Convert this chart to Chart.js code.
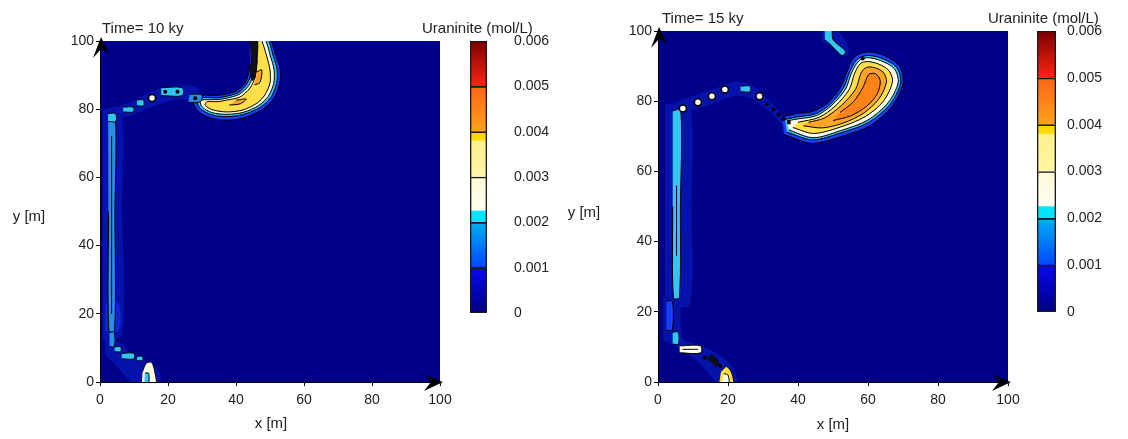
<!DOCTYPE html>
<html>
<head>
<meta charset="utf-8">
<script src="https://cdn.jsdelivr.net/npm/chart.js@4"></script>
<style>
  html, body { margin: 0; padding: 0; background: #fff; }
  #wrap { position: relative; width: 1128px; height: 439px; overflow: hidden;
          font-family: "Liberation Sans", Arial, sans-serif; color: #222; }
  canvas { position: absolute; top: 0; }
  .lbl { position: absolute; font-size: 15px; line-height: 1; white-space: nowrap; }
  .c { transform: translate(-50%, -50%); }
  .l { transform: translateY(-50%); }
</style>
</head>
<body>
<div id="wrap">
  <canvas id="left" width="470" height="439" style="left:0px"></canvas>
  <canvas id="leftBar" width="140" height="439" style="left:440px"></canvas>
  <canvas id="right" width="480" height="439" style="left:560px"></canvas>
  <canvas id="rightBar" width="118" height="439" style="left:1010px"></canvas>

  <div class="lbl l" style="left:102px;top:27px">Time= 10 ky</div>
  <div class="lbl l" style="left:422px;top:27px">Uraninite (mol/L)</div>
  <div class="lbl c" style="left:29px;top:215px">y [m]</div>
  <div class="lbl c" style="left:271px;top:422px">x [m]</div>

  <div class="lbl l" style="left:662px;top:17px">Time= 15 ky</div>
  <div class="lbl l" style="left:988px;top:17px">Uraninite (mol/L)</div>
  <div class="lbl c" style="left:584px;top:211px">y [m]</div>
  <div class="lbl c" style="left:833px;top:423px">x [m]</div>
</div>
<script>
// Ticks
const xTicks = [0, 20, 40, 60, 80, 100];
const yTicks = [0, 20, 40, 60, 80, 100];
const cbTicks = [0, 0.001, 0.002, 0.003, 0.004, 0.005, 0.006];

// Colour bar bands (value limits, colour at low end, colour at high end)
const cbStops = [0, 0.001, 0.002, 0.00225, 0.003, 0.0038, 0.004, 0.005, 0.006];
const cbLow  = ['#00007f', '#0046ff', '#00e6ff', '#fffef2', '#fff6a6', '#ffdc00', '#ffa21a', '#ff2412'];
const cbHigh = ['#0808f4', '#00b0f2', '#00e6ff', '#fffad6', '#fff08a', '#ffd400', '#ff6418', '#7a0000'];

// ---- t = 10 ky : contour regions [x, y] in metres ----
const L_glowStreak = [[0.8,80],[6.2,80],[6.5,50],[6.5,14],[0.8,12]];
const L_glowPath = [[4.5,77],[10,78.5],[16,81],[24,83],[29,81],[29,86],[24,87],[16,85.5],[10,82.5],[4.5,80.5]];
const L_glowBottom = [[1.5,13],[6,11.5],[9,8.5],[13,6.5],[17.5,3],[17.5,-1],[10.5,-1],[4.5,5],[1.5,8]];
const L_streakLow = [[1.5,15],[5.5,15],[5.5,23],[1.5,23]];
const L_streak = [[2.4,78],[4.5,78],[4.4,50],[4.3,15],[2.6,15],[2.5,50]];
const L_streakCore = [[3.4,72],[3.4,20]];
const L_topBlob = [[2.4,76.4],[4.6,76.4],[4.6,78.7],[2.4,78.7]];
const L_bar1 = [[6.8,79.2],[9.8,79.2],[9.8,80.6],[6.8,80.6]];
const L_blob1 = [[10.9,81],[12.8,81],[12.8,82.7],[10.9,82.7]];
const L_rect1 = [[18,84],[24.2,84],[24.2,86.3],[18,86.3]];
const L_blob2 = [[26,82],[29.5,82.2],[30,84.2],[26.4,84.4]];
const L_smallLow = [[2.8,10.4],[4.2,10.4],[4.2,14.6],[2.8,14.6]];
const L_blob3 = [[4.3,8.9],[6.1,8.9],[6.1,10.3],[4.3,10.3]];
const L_bar2 = [[6.4,6.8],[10,6.8],[10,8.4],[6.4,8.4]];
const L_blob4 = [[10.9,6.3],[12.5,6.3],[12.5,7.5],[10.9,7.5]];
const L_tipPale = [[12.3,-1],[16.4,-1],[16.2,2.5],[15.2,5.7],[13.6,5.5],[12.5,3]];
const L_tipCyan = [[13,-1],[14.2,-1],[14.3,2.6],[13.2,2.6]];
const L_cresHalo = [[44.5,101],[49.5,101],[51.8,95.5],[53,91.5],[52.8,87.3],[51,83],[47.5,79.8],[42.5,77.5],[37.3,76.8],[32.3,77.5],[28.8,79.5],[27.5,82.2],[29.5,84],[34.2,84],[37.8,84.6],[40.8,85.8],[42.8,88],[43.8,91],[44,95.5]];
const L_cresCyan = [[45,101],[49,101],[51,95.4],[52.1,91.5],[51.9,87.5],[50.2,83.4],[47,80.5],[42.3,78.5],[37.3,77.8],[32.7,78.4],[29.5,80.2],[28.6,82.3],[30.5,83.4],[34.3,83.3],[37.7,83.9],[40.9,85],[43.2,87.4],[44.5,90.5],[45,95]];
const L_cresPale = [[45.5,101],[48.2,101],[50.2,95.3],[51.2,91.5],[51.1,87.6],[49.5,83.8],[46.7,81.1],[42.2,79.1],[37.3,78.5],[33,79],[30.1,80.6],[29.5,82.4],[31.2,82.8],[34.4,82.8],[37.6,83.3],[41,84.4],[43.7,86.9],[45,90],[45.6,95]];
const L_cresYellow = [[46.2,101],[47.2,101],[49.1,95.3],[50,91.5],[50,87.7],[48.5,84.2],[46.2,81.8],[42.1,79.8],[37.4,79.2],[33.2,79.8],[30.9,81.2],[31.5,82.2],[34.4,82.2],[37.4,82.7],[41.2,83.6],[44.1,86.2],[45.6,89.4],[46.2,94.4]];
const L_cresBlack = [[44.2,101],[46.2,101],[46.2,94.4],[45.6,89.4],[44.6,88.5],[44.3,93]];
const L_speckA = [[45.4,87.2],[47,87.8],[47.6,91.5],[46.2,91]];
const L_speckB = [[38,81.2],[41.3,81.6],[43,83],[40,82.6]];
const L_rings = [[15.3,83.3]];
const L_dots = [[19.2,85.1],[22.8,85.1],[28,83.2]];

// ---- t = 15 ky ----
const R_glowStreak = [[2,79],[9,79],[9.5,50],[9,22],[2,22]];
const R_glowPath = [[4.5,75.5],[10,77.5],[16,79.5],[22,81.5],[27,80.5],[32,77],[36,73],[40,71.5],[40,75],[36,76],[32,80],[27,84.5],[22,85.5],[16,83.5],[10,81.5],[4.5,79.5]];
const R_glowBottom = [[1.5,12],[5,10],[10,7],[14,3],[18,-1],[22.5,-1],[21.5,4],[17,8],[12,10.5],[7,12.5],[6,24],[1.5,24]];
const R_glowTop = [[46.8,101],[50.6,101],[54.5,95],[53.6,92.6],[50.3,95.3],[46.8,97]];
const R_streakLow = [[2.4,14.8],[4.1,14.8],[4.1,23],[2.4,23]];
const R_streak = [[4.2,77.2],[6.5,77.6],[6.4,50],[6.1,24],[4.4,24],[4.2,50]];
const R_streakCore = [[5.2,36],[5.3,56]];
const R_blob1 = [[4.2,10.8],[5.8,10.8],[5.8,14.2],[4.2,14.2]];
const R_rect = [[6.2,8.3],[12.2,8.3],[12.2,10.3],[6.2,10.3]];
const R_rectCore = [[7,9.3],[11.4,9.3]];
const R_dark = [[14.2,6.4],[15.4,7.7],[17.3,5.3],[16.4,4.4]];
const R_tipYellow = [[17.4,-1],[21.4,-1],[21.1,2.4],[19.6,4.4],[18,3]];
const R_tipPale = [[18.2,-1],[20.2,-1],[20,2],[18.8,2.4]];
const R_blobCyan = [[23.6,82.7],[26.3,82.7],[26.3,84.3],[23.6,84.3]];
const R_topStreak = [[47.6,101],[49.6,101],[50,97.6],[53.6,94.2],[52.6,93],[49,96.4],[47.7,97.4]];
const R_cresHalo = [[36,70.5],[44,68],[52.5,70],[60.5,73],[66.8,78.5],[70,85],[69,90],[64,93.3],[59.5,94],[56,92.5],[54,88.5],[52.2,84],[48.5,79.5],[44,77],[39.5,76.5],[35.5,75.5]];
const R_cresCyan = [[36.8,71.2],[44.2,69],[52.3,71],[60.2,74],[66.2,79],[69.3,85.2],[68.2,89.6],[63.7,92.3],[59.6,93],[56.8,91.8],[54.8,88.4],[53,83.8],[49.3,79.2],[45,76.4],[39.6,75.5],[36.3,74.8]];
const R_cresPale = [[37.4,71.8],[44.3,69.6],[52.1,71.6],[59.9,74.6],[65.7,79.5],[68.6,85.3],[67.5,89.3],[63.5,91.6],[59.7,92.4],[57.4,91.5],[55.4,88.3],[53.6,83.5],[49.7,78.9],[45.3,75.9],[39.7,74.9],[36.8,74.4]];
const R_cresYellow = [[38.5,72.5],[44.5,70.8],[52,72.6],[59.2,75.6],[64.4,80],[67,85.5],[66,88.7],[63,90.6],[59.8,91.3],[57.8,90.7],[56.2,88],[54.6,83.3],[50.6,78.6],[46,75.4],[40,74]];
const R_cresOrange = [[41.5,73],[47,72.4],[53,73.8],[58.6,76.5],[63,80.5],[65.3,85.5],[64.3,88.3],[61.7,89.6],[59.5,89.6],[58,88],[56.5,83.5],[52.4,78.8],[47.5,75.2],[43,74]];
const R_cresDeep = [[50,74.5],[55,75.8],[59.5,78.5],[62.6,82],[63.5,85.8],[62.2,87.8],[60.2,87.6],[58.6,84],[55.8,79.8],[52,76.8]];
const R_rings = [[7.1,77.9],[11.4,79.7],[15.4,81.4],[19.1,83.3],[29,81.4]];
const R_dots = [[31.1,79.1],[33,77.6],[34.5,76.2],[35.9,74.9],[37.4,73.9],[58.5,92.2],[13.4,6.9],[17.8,4.6]];

// Colours of the contour levels
const navy = '#000088';
const level = {
  glow: '#0613aa', haze: '#0c26d6', blue: '#1a3cff', lblue: '#2a8ee8', cyan: '#34c6f2',
  pale: '#fffde6', yellow: '#ffe04a', orange: '#ffa424', deep: '#ff8418', black: '#101018'
};

const leftLayers = [
  [L_glowStreak, 'glow'], [L_glowPath, 'glow'], [L_glowBottom, 'glow'], [L_streakLow, 'haze'],
  [L_cresHalo, 'blue'], [L_cresCyan, 'cyan'], [L_cresPale, 'pale'], [L_cresYellow, 'yellow'],
  [L_cresBlack, 'black'], [L_speckA, 'orange'], [L_speckB, 'orange'],
  [L_streak, 'lblue'], [L_topBlob, 'cyan'], [L_bar1, 'cyan'], [L_blob1, 'cyan'], [L_rect1, 'cyan'],
  [L_blob2, 'lblue'], [L_smallLow, 'lblue'], [L_blob3, 'cyan'], [L_bar2, 'cyan'], [L_blob4, 'cyan'],
  [L_tipPale, 'pale'], [L_tipCyan, 'cyan']
];
const rightLayers = [
  [R_glowStreak, 'glow'], [R_glowPath, 'glow'], [R_glowBottom, 'glow'], [R_glowTop, 'glow'],
  [R_streakLow, 'blue'], [R_streak, 'cyan'], [R_blob1, 'cyan'], [R_rect, 'pale'], [R_dark, 'black'],
  [R_tipYellow, 'yellow'], [R_tipPale, 'pale'], [R_blobCyan, 'cyan'], [R_topStreak, 'cyan'],
  [R_cresHalo, 'blue'], [R_cresCyan, 'cyan'], [R_cresPale, 'pale'], [R_cresYellow, 'yellow'],
  [R_cresOrange, 'orange'], [R_cresDeep, 'deep']
];

Chart.defaults.font.family = '"Liberation Sans", Arial, sans-serif';
Chart.defaults.font.size = 14;
Chart.defaults.color = '#222';

const xy = pts => pts.map(p => ({ x: p[0], y: p[1] }));

function buildDatasets(layers, lines, rings, dots) {
  const sets = [];
  layers.forEach(([pts, kind]) => {
    const edge = kind !== 'glow' && kind !== 'haze';
    sets.push({
      data: xy(pts), showLine: true, fill: 'shape', tension: 0.3,
      backgroundColor: level[kind], borderColor: edge ? '#000' : 'rgba(0,0,0,0)',
      borderWidth: edge ? 1 : 0, pointRadius: 0
    });
  });
  lines.forEach(pts => sets.push({
    data: xy(pts), showLine: true, fill: false, borderColor: '#06062a', borderWidth: 1, pointRadius: 0
  }));
  sets.push({ data: xy(rings), showLine: false, pointRadius: 3.5,
    pointBackgroundColor: '#fffef0', pointBorderColor: '#000', pointBorderWidth: 1.5 });
  sets.push({ data: xy(dots), showLine: false, pointRadius: 2,
    pointBackgroundColor: '#000', pointBorderWidth: 0 });
  // first layer at the bottom
  sets.forEach((s, i) => { s.order = sets.length - i; });
  return sets;
}

// navy field behind the contours
const field = {
  id: 'field',
  beforeDraw(chart) {
    const a = chart.chartArea, ctx = chart.ctx;
    ctx.save();
    ctx.fillStyle = navy;
    ctx.fillRect(a.left, a.top, a.width, a.height);
    ctx.restore();
  }
};

// arrow heads at the axis ends
const arrows = {
  id: 'arrows',
  afterDraw(chart) {
    const { ctx, scales: { x, y } } = chart;
    const x0 = x.getPixelForValue(0), x1 = x.getPixelForValue(100);
    const y0 = y.getPixelForValue(0), y1 = y.getPixelForValue(100);
    ctx.save();
    ctx.fillStyle = '#000';
    ctx.beginPath();
    ctx.moveTo(x0 + 1, y1 - 4);
    ctx.lineTo(x0 + 9, y1 + 12);
    ctx.lineTo(x0 + 1, y1 + 8);
    ctx.lineTo(x0 - 7, y1 + 17);
    ctx.closePath();
    ctx.fill();
    ctx.beginPath();
    ctx.moveTo(x1 + 3, y0);
    ctx.lineTo(x1 - 15, y0 - 7);
    ctx.lineTo(x1 - 9, y0);
    ctx.lineTo(x1 - 16, y0 + 9);
    ctx.closePath();
    ctx.fill();
    ctx.restore();
  }
};

function fieldChart(id, datasets, yWidth, padRight, padTop) {
  const axis = (ticks, fit) => ({
    type: 'linear', min: 0, max: 100,
    afterBuildTicks: s => { s.ticks = ticks.map(v => ({ value: v })); },
    afterFit: fit,
    grid: { drawOnChartArea: false, tickLength: 4, color: '#000' },
    border: { color: '#000', width: 1 }
  });
  const x = axis(xTicks, s => { s.height = 57; });
  x.ticks = { padding: 6, maxRotation: 0, autoSkip: false };
  const y = axis(yTicks, s => { s.width = yWidth; });
  y.ticks = { padding: 2, autoSkip: false };
  return new Chart(document.getElementById(id), {
    type: 'scatter',
    data: { datasets },
    options: {
      responsive: false, animation: false, events: [], devicePixelRatio: 1,
      layout: { padding: { left: 0, right: padRight, top: padTop, bottom: 0 } },
      plugins: { legend: { display: false }, tooltip: { enabled: false } },
      scales: { x, y }
    },
    plugins: [field, arrows]
  });
}

function grad(chart, lo, hi, cLo, cHi) {
  const y = chart.scales.y;
  if (!y || !chart.chartArea) return cLo;
  const g = chart.ctx.createLinearGradient(0, y.getPixelForValue(lo), 0, y.getPixelForValue(hi));
  g.addColorStop(0, cLo);
  g.addColorStop(1, cHi);
  return g;
}

function colourBar(id, padLeft, padTop, padBottom, axisWidth, gap) {
  const sets = [];
  cbStops.slice(0, -1).forEach((lo, i) => {
    const hi = cbStops[i + 1];
    sets.push({
      data: [[lo, hi]], grouped: false, barPercentage: 1, categoryPercentage: 1, order: 1,
      backgroundColor: c => grad(c.chart, lo, hi, cbLow[i], cbHigh[i]), borderWidth: 0
    });
  });
  cbTicks.slice(0, -1).forEach((lo, i) => {
    sets.push({
      data: [[lo, cbTicks[i + 1]]], grouped: false, barPercentage: 1, categoryPercentage: 1, order: 0,
      backgroundColor: 'rgba(0,0,0,0)', borderColor: '#1a1a1a', borderSkipped: false,
      borderWidth: { top: 1, left: 1, right: 1, bottom: i === 0 ? 1 : 0 }
    });
  });
  return new Chart(document.getElementById(id), {
    type: 'bar',
    data: { labels: ['u'], datasets: sets },
    options: {
      responsive: false, animation: false, events: [], devicePixelRatio: 1,
      layout: { padding: { left: padLeft, right: 0, top: padTop, bottom: padBottom } },
      plugins: { legend: { display: false }, tooltip: { enabled: false } },
      scales: {
        x: { display: false },
        y: {
          position: 'right', min: 0, max: 0.006,
          afterBuildTicks: s => { s.ticks = cbTicks.map(v => ({ value: v })); },
          afterFit: s => { s.width = axisWidth; },
          ticks: { padding: gap, callback: v => (v === 0 ? '0' : v.toFixed(3)) },
          grid: { display: false, drawTicks: false },
          border: { display: false }
        }
      }
    }
  });
}

fieldChart('left', buildDatasets(leftLayers, [L_streakCore], L_rings, L_dots), 100, 30, 41);
fieldChart('right', buildDatasets(rightLayers, [R_streakCore, R_rectCore], R_rings, R_dots), 98, 32, 31);
colourBar('leftBar', 30, 41, 126, 93, 27);
colourBar('rightBar', 27, 31, 127, 72, 11);
</script>
</body>
</html>
